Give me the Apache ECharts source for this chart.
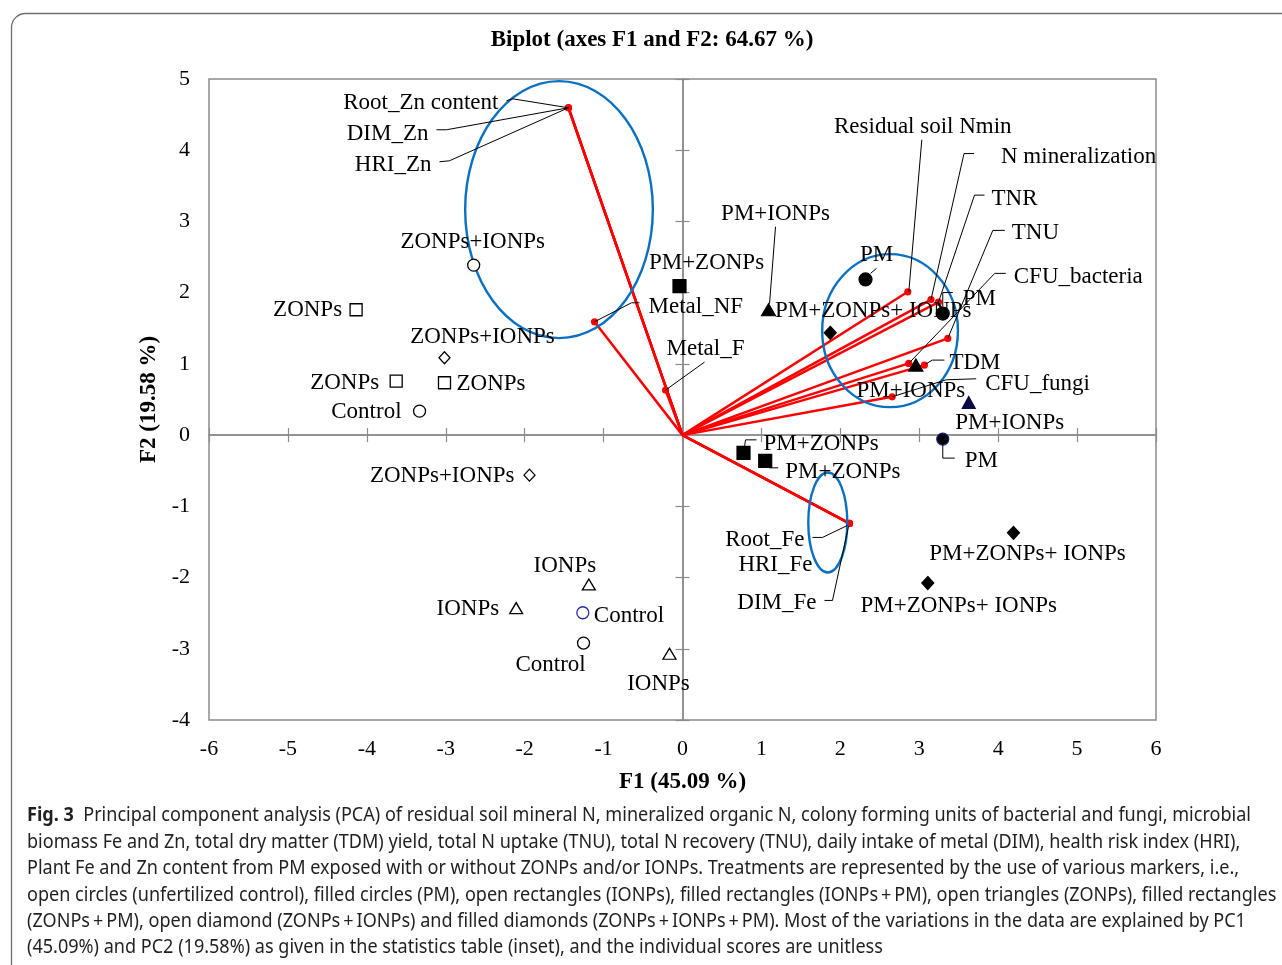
<!DOCTYPE html>
<html><head><meta charset="utf-8">
<script src="https://cdn.jsdelivr.net/npm/echarts@6.0.0/dist/echarts.min.js"></script>
<style>html,body{margin:0;padding:0;background:#fff}#c{width:1282px;height:965px}</style>
</head><body><div id="c"></div><script>
// ---------------- DATA ----------------
const f1Ticks = [-6,-5,-4,-3,-2,-1,0,1,2,3,4,5,6];
const f2Ticks = [-4,-3,-2,-1,0,1,2,3,4,5];

// observations (treatments)
const obsNames = ['ZONPs+IONPs','ZONPs','ZONPs+IONPs','ZONPs','ZONPs','Control','ZONPs+IONPs','IONPs','IONPs','Control','Control','IONPs',
  'PM+ZONPs','PM+IONPs','PM','PM+ZONPs+ IONPs','PM','PM+IONPs','PM+IONPs','PM','PM+ZONPs','PM+ZONPs','PM+ZONPs+ IONPs','PM+ZONPs+ IONPs'];
const obsF1 = [-2.646,-4.136,-3.016,-3.628,-3.016,-3.332,-1.939,-1.187,-2.108,-1.263,-1.254,-0.165,
  -0.038,1.090,2.319,1.872,3.298,2.957,3.627,3.298,0.773,1.048,4.194,3.108];
const obsF2 = [2.387,1.760,1.086,0.758,0.735,0.337,-0.562,-2.097,-2.429,-2.494,-2.920,-3.070,
  2.092,1.760,2.186,1.437,1.707,0.983,0.459,-0.056,-0.249,-0.361,-1.372,-2.077];
const obsMarker = ['openCircle','openSquare','openDiamond','openSquare','openSquare','openCircle','openDiamond','openTriangle','openTriangle','openCircleBlue','openCircle','openTriangle',
  'filledSquare','filledTriangle','filledCircle','filledDiamond','filledCircle','filledTriangle','filledTriangleNavy','filledCircleNavy','filledSquare','filledSquare','filledDiamond','filledDiamond'];

// variables (loadings)
const varNames = ['Root_Zn content','DIM_Zn','HRI_Zn','Metal_NF','Metal_F','Root_Fe','HRI_Fe','DIM_Fe',
  'Residual soil Nmin','N mineralization','TNR','TNU','CFU_bacteria','TDM','CFU_fungi'];
const varF1 = [-1.445,-1.445,-1.445,-1.115,-0.215,2.116,2.116,2.116,2.855,3.149,3.244,3.362,2.867,3.066,2.657];
const varF2 = [4.596,4.596,4.596,1.591,0.632,-1.240,-1.240,-1.240,2.012,1.903,1.867,1.358,1.007,0.983,0.538];

// highlighted groups (ellipses): centre F1, centre F2, half-width, half-height
const groupCx = [-1.565, 2.630, 1.841];
const groupCy = [3.166, 1.467, -1.226];
const groupRx = [1.189, 0.860, 0.247];
const groupRy = [1.804, 1.074, 0.702];

// ---------------- STYLE / LAYOUT ----------------
const SERIF = '"Liberation Serif","Times New Roman",serif';
const LABEL_FONT = '23px ' + SERIF;
const LABEL_SHIFT = 2;
const markerStyles = {
  openCircle:        {symbol:'circle',   size:12,      fill:'#fff', stroke:'#000'},
  openCircleBlue:    {symbol:'circle',   size:12,      fill:'#fff', stroke:'#2a2aa8'},
  openSquare:        {symbol:'rect',     size:12,      fill:'#fff', stroke:'#000'},
  openDiamond:       {symbol:'diamond',  size:[11,12], fill:'#fff', stroke:'#000'},
  openTriangle:      {symbol:'triangle', size:[13,11], fill:'#fff', stroke:'#000'},
  filledCircle:      {symbol:'circle',   size:13,      fill:'#000', stroke:'#000'},
  filledCircleNavy:  {symbol:'circle',   size:12,      fill:'#000', stroke:'#1a1a7a'},
  filledSquare:      {symbol:'rect',     size:13,      fill:'#000', stroke:'#000'},
  filledTriangle:    {symbol:'triangle', size:[14,12], fill:'#000', stroke:'#000'},
  filledTriangleNavy:{symbol:'triangle', size:[13,12], fill:'#0b0b48', stroke:'#0b0b48'},
  filledDiamond:     {symbol:'diamond',  size:[12,13], fill:'#000', stroke:'#000'}
};

// label placement: pixel offsets from the mark, align, leader polyline (pixel offsets)
const obsLabelLayout = [
  {dx:-1,dy:-25,a:'center'},
  {dx:-14,dy:-2,a:'right'},
  {dx:38,dy:-23,a:'center'},
  {dx:-17,dy:0,a:'right'},
  {dx:12,dy:-1,a:'left'},
  {dx:-18,dy:-1,a:'right'},
  {dx:-15,dy:-1,a:'right'},
  {dx:-24,dy:-21,a:'center'},
  {dx:-17,dy:-1,a:'right'},
  {dx:11,dy:1,a:'left'},
  {dx:-33,dy:20,a:'center'},
  {dx:-11,dy:28,a:'center'},
  {dx:27,dy:-25,a:'center'},
  {dx:7,dy:-98,a:'center', leader:[[7,-83],[1,-6]]},
  {dx:11,dy:-26,a:'center', leader:[[5,-6],[11,-11]]},
  {dx:43,dy:-24,a:'center'},
  {dx:20,dy:-17,a:'left', leader:[[0,-7],[0,-21],[10,-21]]},
  {dx:-5,dy:24,a:'center'},
  {dx:41,dy:19,a:'center'},
  {dx:22,dy:20,a:'left', leader:[[0,4],[0,19],[12,19]]},
  {dx:20,dy:-11,a:'left', leader:[[1,-6],[2,-13],[13,-13]]},
  {dx:20,dy:9,a:'left', leader:[[3,3],[4,7],[13,7]]},
  {dx:14,dy:19,a:'center'},
  {dx:31,dy:21,a:'center'}
];
const varLabelLayout = [
  {dx:-70,dy:-7,a:'right', leader:[[-62,-7],[-56,-9],[0,0]]},
  {dx:-140,dy:24,a:'right', leader:[[-132,22],[-122,22],[0,0]]},
  {dx:-137,dy:55,a:'right', leader:[[-129,54],[-119,53],[0,0]]},
  {dx:54,dy:-17,a:'left', leader:[[45,-19],[37,-19],[0,0]]},
  {dx:1,dy:-43,a:'left', leader:[[39,-28],[0,0]]},
  {dx:-45,dy:15,a:'right', leader:[[-37,14],[-27,14],[-2,2]]},
  {dx:-37,dy:40,a:'right'},
  {dx:-33,dy:78,a:'right', leader:[[-25,77],[-17,77],[-1,3]]},
  {dx:15,dy:-167,a:'center', leader:[[14,-152],[1,0]]},
  {dx:70,dy:-145,a:'left', leader:[[43,-146],[33,-146],[0,0]]},
  {dx:53,dy:-105,a:'left', leader:[[46,-107],[36,-107],[0,0]]},
  {dx:64,dy:-107,a:'left', leader:[[57,-108],[45,-108],[0,0]]},
  {dx:105,dy:-88,a:'left', leader:[[97,-90],[86,-90],[0,0]]},
  {dx:25,dy:-4,a:'left', leader:[[20,-5],[8,-5],[1,-1]]},
  {dx:93,dy:-15,a:'left', leader:[[84,-18],[54,-17],[0,0]]}
];

// ---------------- BUILD ----------------
const chart = echarts.init(document.getElementById('c'), null, {renderer:'canvas'});

const markerKeys = [];
obsMarker.forEach(k => { if (markerKeys.indexOf(k) < 0) markerKeys.push(k); });
const scatterSeries = markerKeys.map(k => {
  const st = markerStyles[k];
  const data = [];
  obsMarker.forEach((m, i) => { if (m === k) data.push([obsF1[i], obsF2[i]]); });
  return {
    type:'scatter', name:k, data, symbol:st.symbol, symbolSize:st.size, z:5, silent:true,
    itemStyle:{color:st.fill, borderColor:st.stroke, borderWidth: st.fill === '#fff' ? 1.3 : 1.2, opacity:1}
  };
});

const annos = [];
obsNames.forEach((n, i) => annos.push({text:n, x:obsF1[i], y:obsF2[i], L:obsLabelLayout[i]}));
varNames.forEach((n, i) => annos.push({text:n, x:varF1[i], y:varF2[i], L:varLabelLayout[i]}));

const axisGray = '#8c8c8c';
const xBase = {type:'value', min:f1Ticks[0], max:f1Ticks[f1Ticks.length-1], interval:1, splitLine:{show:false}};
const yBase = {type:'value', min:f2Ticks[0], max:f2Ticks[f2Ticks.length-1], interval:1, splitLine:{show:false}};
const zeroAxis = (base, pos, inside) => Object.assign({}, base, {
  position:pos,
  axisLine:{show:true, onZero:true, onZeroAxisIndex:0, lineStyle:{color:axisGray, width:1.5}},
  axisTick:{show:true, inside:inside, length:7, lineStyle:{color:axisGray, width:1.2}},
  axisLabel:{show:false}
});

const option = {
  backgroundColor:'#fff',
  animation:false,
  title:{
    text:'Biplot (axes F1 and F2: 64.67 %)', left:647, top:24, textAlign:'center',
    textStyle:{fontFamily:SERIF, fontSize:23, fontWeight:'bold', color:'#000'}
  },
  grid:{left:209, top:79, right:126, bottom:245, show:true, borderColor:axisGray, borderWidth:1.5, containLabel:false},
  xAxis:[
    Object.assign({}, xBase, {
      position:'bottom', axisLine:{show:false, onZero:false}, axisTick:{show:false},
      axisLabel:{show:true, margin:18, fontFamily:SERIF, fontSize:22, color:'#000'},
      name:'F1 (45.09 %)', nameLocation:'middle', nameGap:51,
      nameTextStyle:{fontFamily:SERIF, fontSize:23, fontWeight:'bold', color:'#000'}
    }),
    zeroAxis(xBase, 'bottom', true),
    zeroAxis(xBase, 'bottom', false)
  ],
  yAxis:[
    Object.assign({}, yBase, {
      position:'left', axisLine:{show:false, onZero:false}, axisTick:{show:false},
      axisLabel:{show:true, margin:19, fontFamily:SERIF, fontSize:22, color:'#000',
        padding:[2,0,0,0]},
      name:'F2 (19.58 %)', nameLocation:'middle', nameGap:43,
      nameTextStyle:{fontFamily:SERIF, fontSize:23, fontWeight:'bold', color:'#000'}
    }),
    zeroAxis(yBase, 'left', true),
    zeroAxis(yBase, 'left', false)
  ],
  series:[
    {
      type:'custom', name:'vectors', z:3, silent:true,
      data: varF1.map((v,i) => [v, varF2[i]]),
      encode:{x:0, y:1},
      renderItem(params, api) {
        const o = api.coord([0,0]);
        const p = api.coord([api.value(0), api.value(1)]);
        return {type:'group', children:[
          {type:'line', shape:{x1:o[0], y1:o[1], x2:p[0], y2:p[1]}, style:{stroke:'#ff0000', lineWidth:2.5}},
          {type:'circle', shape:{cx:p[0], cy:p[1], r:3.6}, style:{fill:'#ff0000'}}
        ]};
      }
    },
    {
      type:'custom', name:'groups', z:4, silent:true,
      data: groupCx.map((v,i) => [v, groupCy[i], groupRx[i], groupRy[i]]),
      encode:{x:0, y:1},
      renderItem(params, api) {
        const c = api.coord([api.value(0), api.value(1)]);
        const s = api.size([api.value(2), api.value(3)]);
        return {type:'ellipse', shape:{cx:c[0], cy:c[1], rx:s[0], ry:s[1]},
          style:{fill:null, stroke:'#0a70c2', lineWidth:2.4}};
      }
    },
    ...scatterSeries,
    {
      type:'custom', name:'labels', z:8, silent:true,
      data: annos.map(a => [a.x, a.y]),
      encode:{x:0, y:1},
      renderItem(params, api) {
        const a = annos[params.dataIndex];
        const L = a.L;
        const p = api.coord([api.value(0), api.value(1)]);
        const ch = [];
        if (L.leader) {
          ch.push({type:'polyline', shape:{points:L.leader.map(d => [p[0]+d[0], p[1]+d[1]])},
            style:{stroke:'#000', lineWidth:1, fill:null}});
        }
        ch.push({type:'text', x:p[0]+L.dx, y:p[1]+L.dy+LABEL_SHIFT,
          style:{text:a.text, font:LABEL_FONT, fill:'#000', align:L.a, verticalAlign:'middle'}});
        return {type:'group', children:ch};
      }
    }
  ]
};

// caption
const captionLines = [
  'Principal component analysis (PCA) of residual soil mineral N, mineralized organic N, colony forming units of bacterial and fungi, microbial',
  'biomass Fe and Zn, total dry matter (TDM) yield, total N uptake (TNU), total N recovery (TNU), daily intake of metal (DIM), health risk index (HRI),',
  'Plant Fe and Zn content from PM exposed with or without ZONPs and/or IONPs. Treatments are represented by the use of various markers, i.e.,',
  'open circles (unfertilized control), filled circles (PM), open rectangles (IONPs), filled rectangles (IONPs\u2009+\u2009PM), open triangles (ZONPs), filled rectangles',
  '(ZONPs\u2009+\u2009PM), open diamond (ZONPs\u2009+\u2009IONPs) and filled diamonds (ZONPs\u2009+\u2009IONPs\u2009+\u2009PM). Most of the variations in the data are explained by PC1',
  '(45.09%) and PC2 (19.58%) as given in the statistics table (inset), and the individual scores are unitless'
];
const CAP_FAMILY = '"Noto Sans","Open Sans",sans-serif';
const CAP_SIZE = 19;
const ctx = document.createElement('canvas').getContext('2d');
ctx.font = 'bold ' + CAP_SIZE + 'px ' + CAP_FAMILY;
const wBold = ctx.measureText('Fig. 3').width;
ctx.font = CAP_SIZE + 'px ' + CAP_FAMILY;
const wRest = ctx.measureText('  ' + captionLines[0]).width;
const capScale = (1251 - 27) / (wBold + wRest);

const graphics = [
  {type:'rect', left:9, top:11, silent:true, z:-1,
   shape:{width:1300, height:1000, r:14}, style:{fill:null, stroke:'#6f6f6f', lineWidth:1.3}}
];
captionLines.forEach((t, i) => {
  graphics.push({
    type:'text', x:27, y:816 + i*26.4, scaleX:capScale, originX:0, originY:0, silent:true,
    style:{
      text: i === 0 ? '{b|Fig. 3}  ' + t : t,
      font: CAP_SIZE + 'px ' + CAP_FAMILY, fill:'#231f20', verticalAlign:'middle', align:'left',
      rich: {b:{fontWeight:'bold', fontSize:CAP_SIZE, fontFamily:CAP_FAMILY, fill:'#231f20'}}
    }
  });
});
option.graphic = graphics;

chart.setOption(option);
</script></body></html>
